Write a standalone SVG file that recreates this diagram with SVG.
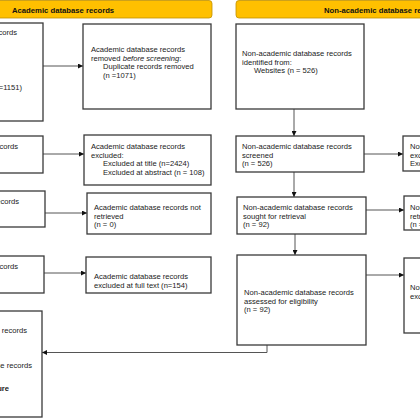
<svg xmlns="http://www.w3.org/2000/svg" width="420" height="420" viewBox="0 0 420 420">
<defs>
<marker id="ah" viewBox="0 0 10 10" refX="10" refY="5" markerWidth="5" markerHeight="5" orient="auto" markerUnits="userSpaceOnUse">
<path d="M0,0 L10,5 L0,10 z" fill="#111"/>
</marker>
<style>
.bn{fill:#FFC000;stroke:#C09000;stroke-width:0.8}
.bt{font-family:"Liberation Sans",Arial,sans-serif;font-size:7.7px;font-weight:bold;fill:#111}
.bx{fill:#fff;stroke:#3a3a3a;stroke-width:1.3}
.t{font-family:"Liberation Sans",Arial,sans-serif;font-size:7.6px;fill:#1a1a1a}
.e{text-anchor:end}
.c{fill:none;stroke:#555;stroke-width:1}
.ca{fill:none;stroke:#555;stroke-width:1;marker-end:url(#ah)}
</style>
</defs>
<rect width="420" height="420" fill="#fff"/>

<g id="banner-academic">
<rect class="bn" x="-10" y="0.5" width="222" height="17.5" rx="3"/>
<text class="bt" x="12" y="13">Academic database records</text>
</g>
<g id="banner-nonacademic">
<rect class="bn" x="236" y="0.5" width="200" height="17.5" rx="3"/>
<text class="bt" x="324" y="13">Non-academic database records</text>
</g>

<g id="connectors">
<line class="ca" x1="43" y1="66" x2="83" y2="66"/>
<line class="ca" x1="294" y1="109" x2="294" y2="136"/>
<line class="ca" x1="43" y1="154" x2="84" y2="154"/>
<line class="ca" x1="364" y1="154" x2="403" y2="154"/>
<line class="ca" x1="294" y1="172" x2="294" y2="197"/>
<line class="ca" x1="45" y1="213" x2="87" y2="213"/>
<line class="ca" x1="366" y1="210" x2="404" y2="210"/>
<line class="ca" x1="295" y1="234" x2="295" y2="255"/>
<line class="ca" x1="44" y1="273" x2="86" y2="273"/>
<line class="ca" x1="366" y1="275" x2="404" y2="275"/>
<polyline class="ca" points="267,345 267,352.5 42,352.5"/>
</g>

<g id="a1">
<rect class="bx" x="-100" y="23" width="143" height="98"/>
<text class="t e" x="17" y="35">records</text>
<text class="t e" x="22" y="90">(n=1151)</text>
</g>
<g id="b1">
<rect class="bx" x="83" y="24" width="128" height="85"/>
<text class="t" x="91" y="52">Academic database records</text>
<text class="t" x="91" y="60.7">removed <tspan font-style="italic">before screening</tspan>:</text>
<text class="t" x="103" y="69.4">Duplicate records removed</text>
<text class="t" x="103" y="78.1">(n =1071)</text>
</g>
<g id="c1">
<rect class="bx" x="236" y="24" width="128" height="85"/>
<text class="t" x="242" y="56">Non-academic database records</text>
<text class="t" x="242" y="64.7">identified from:</text>
<text class="t" x="254" y="73.4">Websites (n = 526)</text>
</g>

<g id="a2">
<rect class="bx" x="-100" y="136" width="143" height="37"/>
<text class="t e" x="18" y="149">records</text>
</g>
<g id="b2">
<rect class="bx" x="84" y="135" width="127" height="50"/>
<text class="t" x="91" y="149">Academic database records</text>
<text class="t" x="91" y="157.7">excluded:</text>
<text class="t" x="103" y="166.4">Excluded at title (n=2424)</text>
<text class="t" x="103" y="175.1">Excluded at abstract (n = 108)</text>
</g>
<g id="c2">
<rect class="bx" x="236" y="136" width="128" height="36"/>
<text class="t" x="242" y="149">Non-academic database records</text>
<text class="t" x="242" y="157.7">screened</text>
<text class="t" x="242" y="166.4">(n = 526)</text>
</g>
<g id="d2">
<rect class="bx" x="403" y="136" width="60" height="35"/>
<text class="t" x="410" y="149">Non-academic</text>
<text class="t" x="410" y="157.7">excluded:</text>
<text class="t" x="410" y="166.4">Excluded</text>
</g>

<g id="a3">
<rect class="bx" x="-100" y="191" width="145" height="36"/>
<text class="t e" x="19" y="204">records</text>
</g>
<g id="b3">
<rect class="bx" x="87" y="193" width="124" height="41"/>
<text class="t" x="94" y="210">Academic database records not</text>
<text class="t" x="94" y="218.7">retrieved</text>
<text class="t" x="94" y="227.4">(n = 0)</text>
</g>
<g id="c3">
<rect class="bx" x="237" y="197" width="129" height="37"/>
<text class="t" x="243" y="210">Non-academic database records</text>
<text class="t" x="243" y="218.7">sought for retrieval</text>
<text class="t" x="243" y="227.4">(n = 92)</text>
</g>
<g id="d3">
<rect class="bx" x="404" y="196" width="60" height="34"/>
<text class="t" x="410" y="210">Non-academic</text>
<text class="t" x="410" y="218.7">retrieved</text>
<text class="t" x="410" y="227.4">(n =</text>
</g>

<g id="a4">
<rect class="bx" x="-100" y="256" width="144" height="37"/>
<text class="t e" x="18" y="269">records</text>
</g>
<g id="b4">
<rect class="bx" x="86" y="257" width="125" height="36"/>
<text class="t" x="94" y="279">Academic database records</text>
<text class="t" x="94" y="287.7">excluded at full text (n=154)</text>
</g>
<g id="c4">
<rect class="bx" x="237" y="255" width="129" height="90"/>
<text class="t" x="244" y="295">Non-academic database records</text>
<text class="t" x="244" y="303.7">assessed for eligibility</text>
<text class="t" x="244" y="312.4">(n = 92)</text>
</g>
<g id="d4">
<rect class="bx" x="404" y="258" width="60" height="75"/>
<text class="t" x="410" y="290">Non-academic</text>
<text class="t" x="410" y="298.7">excluded</text>
</g>

<g id="a5">
<rect class="bx" x="-100" y="311" width="142" height="106"/>
<text class="t e" x="27" y="333">records</text>
<text class="t e" x="32" y="368">database records</text>
<text class="t e" x="9" y="391" font-weight="bold">literature</text>
</g>
</svg>
